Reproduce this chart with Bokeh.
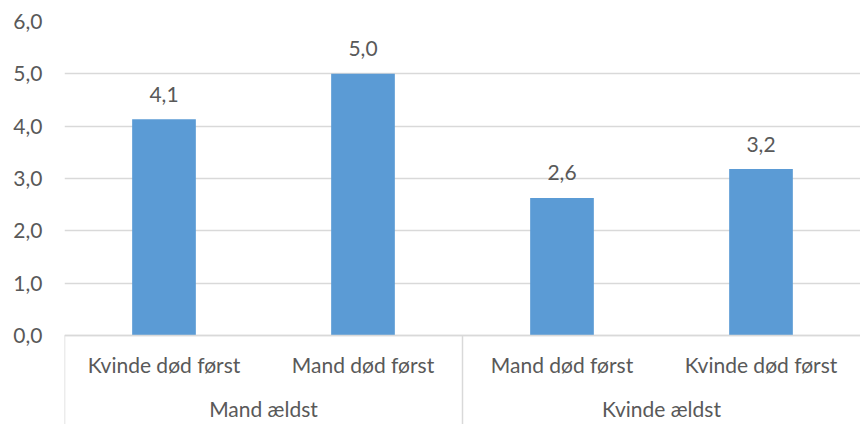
from bokeh.plotting import figure
from bokeh.models import FactorRange, Range1d, FixedTicker, CustomJSTickFormatter, ColumnDataSource
from bokeh.core.properties import value
from bokeh.embed import file_html
from bokeh.resources import INLINE

groups = ["Mand ældst", "Mand ældst", "Kvinde ældst", "Kvinde ældst"]
subcats = ["Kvinde død først", "Mand død først", "Mand død først", "Kvinde død først"]
values = [4.13, 5.0, 2.63, 3.18]
y_ticks = [0, 1, 2, 3, 4, 5, 6]
separators = [0, 2]

factors = list(zip(groups, subcats))
labels = [f"{v:.1f}".replace(".", ",") for v in values]

FONT = "Lato"
FS = "21px"
TXT = "#595959"
GRID = "#d9d9d9"

src = ColumnDataSource(dict(x=factors, top=values, label=labels))

p = figure(
    x_range=FactorRange(*factors, factor_padding=0, group_padding=0, range_padding=0),
    y_range=Range1d(-1.70, 6),
    width=860, height=424,
    output_backend="svg", toolbar_location=None,
    min_border_left=64, min_border_right=0, min_border_top=21, min_border_bottom=0,
)
p.outline_line_color = None
p.background_fill_color = "white"
p.border_fill_color = "white"

p.vbar(x="x", top="top", width=0.32, source=src, color="#5B9BD5", line_color=None)
p.text(x="x", y="top", text="label", source=src, y_offset=-25,
       text_align="center", text_baseline="alphabetic",
       text_font=value(FONT), text_font_size=FS, text_color=TXT)

# group separators below the axis
p.segment(x0=separators, x1=separators, y0=[0] * len(separators), y1=[-1.70] * len(separators),
          line_color=GRID, line_width=1.5)

# y axis
p.yaxis.ticker = FixedTicker(ticks=y_ticks)
p.yaxis.formatter = CustomJSTickFormatter(code="return tick.toFixed(1).replace('.', ',');")
p.yaxis.axis_line_color = None
p.yaxis.major_tick_line_color = None
p.yaxis.minor_tick_line_color = None
p.yaxis.major_tick_out = 0
p.yaxis.major_tick_in = 0
p.yaxis.major_label_standoff = 22
p.yaxis.major_label_text_font = FONT
p.yaxis.major_label_text_font_size = FS
p.yaxis.major_label_text_color = TXT

p.ygrid.ticker = FixedTicker(ticks=y_ticks)
p.ygrid.grid_line_color = GRID
p.ygrid.grid_line_width = 1.5
p.xgrid.grid_line_color = None

# x axis, drawn at y = 0 inside the frame
xa = p.xaxis[0]
xa.fixed_location = 0
xa.axis_line_color = GRID
xa.axis_line_width = 1.5
xa.major_tick_line_color = None
xa.minor_tick_line_color = None
xa.major_tick_out = 0
xa.major_tick_in = 0
xa.major_label_standoff = 16
xa.major_label_text_font = FONT
xa.major_label_text_font_size = FS
xa.major_label_text_color = TXT
xa.group_text_font = FONT
xa.group_text_font_size = FS
xa.group_text_color = TXT
xa.group_text_font_style = "normal"
xa.separator_line_color = None

open("out.html", "w").write(file_html(p, INLINE))
